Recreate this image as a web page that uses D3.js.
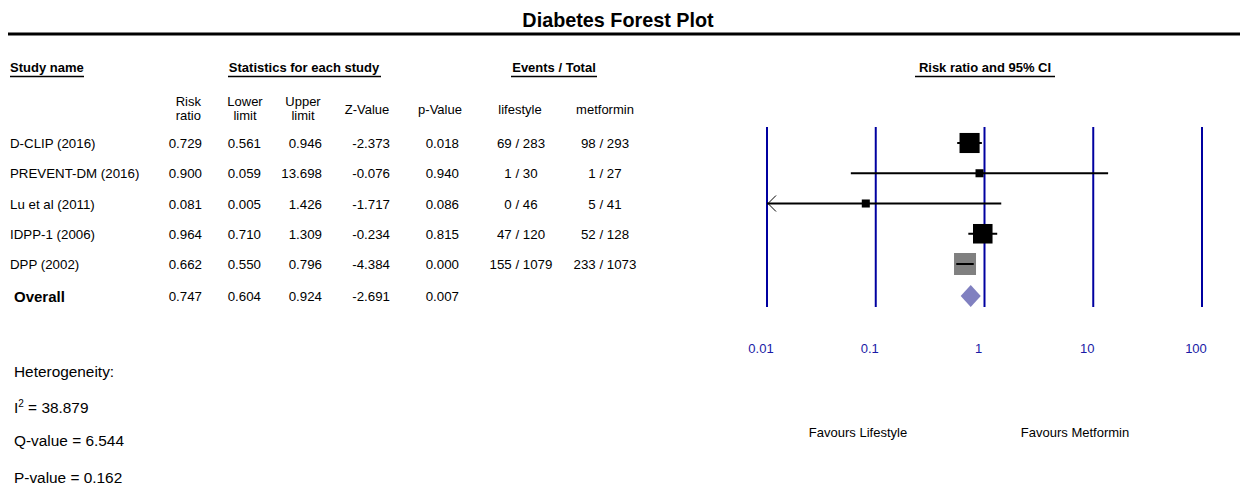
<!DOCTYPE html>
<html>
<head>
<meta charset="utf-8">
<script src="https://cdn.jsdelivr.net/npm/d3@7"></script>
<style>
  body { margin: 0; background: #fff; }
  text { font-family: "Liberation Sans", Arial, sans-serif; fill: #000; }
</style>
</head>
<body>
<svg id="chart" width="1240" height="491"></svg>
<script>
// Study data
const studies = ["D-CLIP (2016)", "PREVENT-DM (2016)", "Lu et al (2011)", "IDPP-1 (2006)", "DPP (2002)"];
const riskRatio = [0.729, 0.900, 0.081, 0.964, 0.662];
const lowerLimit = [0.561, 0.059, 0.005, 0.710, 0.550];
const upperLimit = [0.946, 13.698, 1.426, 1.309, 0.796];
const zValue = [-2.373, -0.076, -1.717, -0.234, -4.384];
const pValue = [0.018, 0.940, 0.086, 0.815, 0.000];
const lifestyleEvents = ["69 / 283", "1 / 30", "0 / 46", "47 / 120", "155 / 1079"];
const metforminEvents = ["98 / 293", "1 / 27", "5 / 41", "52 / 128", "233 / 1073"];
const relWeight = [27.5, 4.4, 4.4, 26, 33];

// Pooled estimate
const overall = { rr: 0.747, lower: 0.604, upper: 0.924, z: -2.691, p: 0.007 };

// Heterogeneity
const heterogeneity = { i2: 38.879, q: 6.544, p: 0.162 };

const axisTicks = [0.01, 0.1, 1, 10, 100];
const axisTickLabels = ["0.01", "0.1", "1", "10", "100"];

const svg = d3.select("#chart");
const locale = d3.formatLocale({ decimal: ".", thousands: ",", grouping: [3], currency: ["", ""], minus: "-" });
const f3 = locale.format(".3f");

const cellSize = "13.3px";

// Layout
const rowY = d3.scalePoint().domain(d3.range(studies.length)).range([143, 264]);
const overallY = 296;
const x = d3.scaleLog().domain([0.01, 100]).range([767, 1202]);
const boxSide = d3.scaleSqrt().domain([0, 33]).range([0, 22]);

// Title
svg.append("text").attr("x", 618).attr("y", 27).attr("text-anchor", "middle")
  .style("font-size", "19.8px").style("font-weight", "bold").text("Diabetes Forest Plot");
svg.append("line").attr("x1", 8).attr("x2", 1240).attr("y1", 34).attr("y2", 34)
  .attr("stroke", "#000").attr("stroke-width", 3);

// Group headers with underlines
const headers = [
  { t: "Study name", x: 10, anchor: "start", u: [10, 84] },
  { t: "Statistics for each study", x: 304, anchor: "middle", u: [228, 381] },
  { t: "Events / Total", x: 554, anchor: "middle", u: [511, 597] },
  { t: "Risk ratio and 95% CI", x: 985, anchor: "middle", u: [915, 1055] }
];
headers.forEach(h => {
  svg.append("text").attr("x", h.x).attr("y", 72).attr("text-anchor", h.anchor)
    .style("font-size", "13px").style("font-weight", "bold").text(h.t);
  svg.append("line").attr("x1", h.u[0]).attr("x2", h.u[1]).attr("y1", 76.5).attr("y2", 76.5)
    .attr("stroke", "#000").attr("stroke-width", 1.3);
});

// Column definitions
const cols = [
  { head: ["Risk", "ratio"], x: 202, anchor: "end", hx: 201, hanchor: "end", vals: riskRatio.map(f3), ov: f3(overall.rr) },
  { head: ["Lower", "limit"], x: 261, anchor: "end", hx: 245, hanchor: "middle", vals: lowerLimit.map(f3), ov: f3(overall.lower) },
  { head: ["Upper", "limit"], x: 322, anchor: "end", hx: 303, hanchor: "middle", vals: upperLimit.map(f3), ov: f3(overall.upper) },
  { head: ["Z-Value"], x: 390, anchor: "end", hx: 367, hanchor: "middle", vals: zValue.map(f3), ov: f3(overall.z) },
  { head: ["p-Value"], x: 459, anchor: "end", hx: 440, hanchor: "middle", vals: pValue.map(f3), ov: f3(overall.p) },
  { head: ["lifestyle"], x: 521, anchor: "middle", hx: 520, hanchor: "middle", vals: lifestyleEvents, ov: "" },
  { head: ["metformin"], x: 605, anchor: "middle", hx: 605, hanchor: "middle", vals: metforminEvents, ov: "" }
];

cols.forEach(c => {
  if (c.head.length === 2) {
    svg.append("text").attr("x", c.hx).attr("y", 106).attr("text-anchor", c.hanchor)
      .style("font-size", "13px").text(c.head[0]);
    svg.append("text").attr("x", c.hx).attr("y", 120).attr("text-anchor", c.hanchor)
      .style("font-size", "13px").text(c.head[1]);
  } else {
    svg.append("text").attr("x", c.hx).attr("y", 114).attr("text-anchor", c.hanchor)
      .style("font-size", "13px").text(c.head[0]);
  }
  c.vals.forEach((v, i) => {
    svg.append("text").attr("x", c.x).attr("y", rowY(i) + 5).attr("text-anchor", c.anchor)
      .style("font-size", cellSize).text(v);
  });
  if (c.ov) {
    svg.append("text").attr("x", c.x).attr("y", overallY + 5).attr("text-anchor", c.anchor)
      .style("font-size", cellSize).text(c.ov);
  }
});

// Study names
studies.forEach((s, i) => {
  svg.append("text").attr("x", 10).attr("y", rowY(i) + 5).style("font-size", cellSize).text(s);
});
svg.append("text").attr("x", 14).attr("y", overallY + 6)
  .style("font-size", "15px").style("font-weight", "bold").text("Overall");

// Reference lines at each decade
svg.selectAll(".ref").data(axisTicks).join("line")
  .attr("x1", d => x(d)).attr("x2", d => x(d))
  .attr("y1", 127).attr("y2", 307)
  .attr("stroke", "#0000a0").attr("stroke-width", 2);

// Tick labels
svg.selectAll(".tick-label").data(axisTicks).join("text")
  .attr("x", d => x(d) - 6).attr("y", 353).attr("text-anchor", "middle")
  .style("font-size", "13px").style("fill", "#1a1aa6")
  .text((d, i) => axisTickLabels[i]);

// Confidence intervals and boxes
const [xmin, xmax] = x.domain();
studies.forEach((s, i) => {
  const y = rowY(i);
  const lo = Math.max(lowerLimit[i], xmin);
  const hi = Math.min(upperLimit[i], xmax);
  const side = boxSide(relWeight[i]);
  const isLast = i === studies.length - 1;

  if (!isLast) {
    svg.append("line").attr("x1", x(lo)).attr("x2", x(hi)).attr("y1", y).attr("y2", y)
      .attr("stroke", "#000").attr("stroke-width", 2);
  }
  svg.append("rect")
    .attr("x", x(riskRatio[i]) - side / 2).attr("y", y - side / 2)
    .attr("width", side).attr("height", side)
    .attr("fill", isLast ? "#808080" : "#000");
  if (isLast) {
    svg.append("line").attr("x1", x(lo)).attr("x2", x(hi)).attr("y1", y).attr("y2", y)
      .attr("stroke", "#000").attr("stroke-width", 2);
  }
  // Arrow where the interval runs past the axis
  if (lowerLimit[i] < xmin) {
    svg.append("path")
      .attr("d", `M${x(xmin) + 9},${y - 8} L${x(xmin) + 1},${y} L${x(xmin) + 9},${y + 8}`)
      .attr("fill", "none").attr("stroke", "#000").attr("stroke-width", 1);
  }
  if (upperLimit[i] > xmax) {
    svg.append("path")
      .attr("d", `M${x(xmax) - 9},${y - 8} L${x(xmax) - 1},${y} L${x(xmax) - 9},${y + 8}`)
      .attr("fill", "none").attr("stroke", "#000").attr("stroke-width", 1);
  }
});

// Pooled diamond
const dx = x(overall.rr);
svg.append("path")
  .attr("d", `M${x(overall.lower)},${overallY} L${dx},${overallY - 11} L${x(overall.upper)},${overallY} L${dx},${overallY + 11} Z`)
  .attr("fill", "#8080c0");

// Direction labels
svg.append("text").attr("x", 858).attr("y", 437).attr("text-anchor", "middle")
  .style("font-size", "13px").text("Favours Lifestyle");
svg.append("text").attr("x", 1075).attr("y", 437).attr("text-anchor", "middle")
  .style("font-size", "13px").text("Favours Metformin");

// Heterogeneity summary
const hetSize = "15.4px";
svg.append("text").attr("x", 14).attr("y", 377).style("font-size", hetSize).text("Heterogeneity:");
const i2 = svg.append("text").attr("x", 14).attr("y", 413).style("font-size", hetSize);
i2.append("tspan").text("I");
i2.append("tspan").attr("dy", -6).style("font-size", "10px").text("2");
i2.append("tspan").attr("dy", 6).text(" = " + f3(heterogeneity.i2));
svg.append("text").attr("x", 14).attr("y", 446).style("font-size", hetSize).text("Q-value = " + f3(heterogeneity.q));
svg.append("text").attr("x", 14).attr("y", 483).style("font-size", hetSize).text("P-value = " + f3(heterogeneity.p));
</script>
</body>
</html>
